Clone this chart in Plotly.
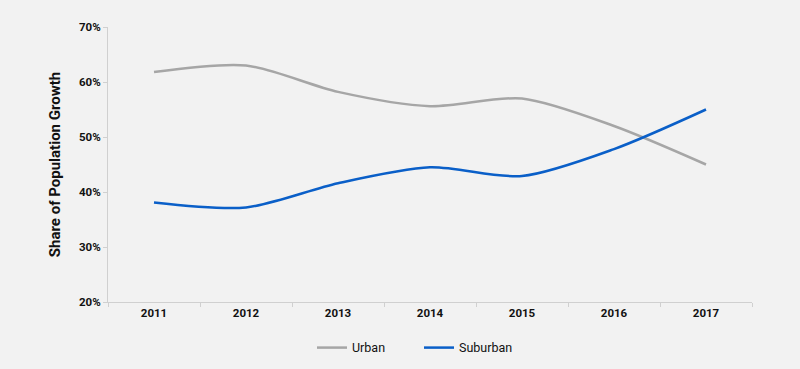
import plotly.graph_objects as go

years = ["2011", "2012", "2013", "2014", "2015", "2016", "2017"]
urban = [61.8, 63.0, 58.2, 55.6, 57.0, 52.0, 45.0]
suburban = [38.1, 37.2, 41.6, 44.5, 42.9, 47.8, 55.0]
y_ticks = [20, 30, 40, 50, 60, 70]

FONT = "Roboto, Arial"

fig = go.Figure()
fig.add_trace(go.Scatter(x=years, y=urban, name="Urban", mode="lines",
                         line=dict(color="#a6a6a6", width=2.5, shape="spline", smoothing=0.8)))
fig.add_trace(go.Scatter(x=years, y=suburban, name="Suburban", mode="lines",
                         line=dict(color="#0a5fc8", width=2.5, shape="spline", smoothing=0.8)))

fig.update_layout(
    width=800, height=369,
    paper_bgcolor="#f2f2f2", plot_bgcolor="#f2f2f2",
    margin=dict(l=108, r=48, t=27, b=67, autoexpand=False),
    font=dict(family=FONT, color="#111111"),
    showlegend=True,
    legend=dict(orientation="h", xref="container", yref="container",
                x=0.39, xanchor="left", y=0.057, yanchor="middle",
                font=dict(size=12.5, family=FONT), itemwidth=30, tracegroupgap=0,
                entrywidth=62, bgcolor="rgba(0,0,0,0)"),
    xaxis=dict(type="category", range=[-0.5, 6.5], showgrid=False,
               showline=True, linecolor="#d0d0d0", linewidth=1,
               ticks="outside", tickson="boundaries", ticklen=4, tickcolor="#d0d0d0",
               tickfont=dict(size=11.5, family=FONT, weight="bold")),
    yaxis=dict(range=[20, 70], tickvals=y_ticks,
               ticktext=[f"{v}%" for v in y_ticks], showgrid=False,
               showline=True, linecolor="#d0d0d0", linewidth=1,
               ticks="outside", ticklen=4, tickcolor="#d0d0d0",
               tickfont=dict(size=11.5, family=FONT, weight="bold"),
               title=dict(text="Share of Population Growth", standoff=14,
                          font=dict(size=15, family=FONT, weight="bold"))),
)

fig.write_html("out.html", config={"displayModeBar": False},
               post_script="document.body.style.margin='0';document.body.style.background='#f2f2f2';")
